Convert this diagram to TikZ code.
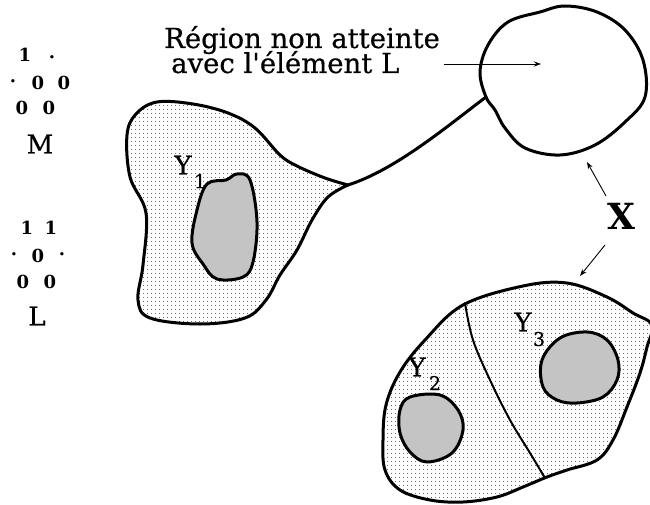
\documentclass[tikz,border=0pt]{standalone}
\usepackage{fontspec}
\setmainfont{DejaVu Serif}
\newfontfamily\heavyserif[FakeBold=0.6]{DejaVu Serif}
\usetikzlibrary{arrows.meta,patterns.meta}
\begin{document}
\begin{tikzpicture}[x=1pt,y=-1pt,
  region/.style={line width=3pt, line join=round, pattern={Dots[distance=4pt,radius=0.55pt]}, pattern color=black},
  core/.style={line width=3pt, line join=round, fill=white, postaction={pattern={Dots[distance=2pt,radius=0.7pt]}, pattern color=black}},
  thick line/.style={line width=3pt, line cap=round},
  thinarr/.style={line width=0.9pt, -{Stealth[length=7pt,width=5pt]}},
  lbl/.style={inner sep=0pt, font=\fontsize{27.5}{31}\heavyserif},
  ent/.style={inner sep=0pt, font=\fontsize{18}{20}\selectfont\bfseries},
  big/.style={inner sep=0pt, font=\fontsize{26}{30}\heavyserif},
  sub/.style={inner sep=0pt, font=\fontsize{19}{22}\heavyserif}]
\useasboundingbox (0,0) rectangle (650,505);

% left blob (Y1)
\draw[region] plot[smooth, tension=0.6] coordinates {(348,185) (325,178) (297,166) (280,155) (255,128) (228,113) (193,104) (157,102) (136,114) (127,135) (130,177) (146,213) (143,265) (138,300) (150,318) (200,324) (245,318) (266,300) (280,275) (297,250) (312,220) (328,197) (348,185)} -- cycle;
\draw[core] plot[smooth cycle, tension=0.6] coordinates {(237,174) (250,180) (257,222) (253,262) (243,277) (217,279) (203,264) (192,243) (197,210) (207,184) (226,180)};

% connector to circle
\coordinate (tip) at (348,185);
\coordinate (junc) at (486,97);
\draw[thick line] (tip) .. controls (395,170) and (445,128) .. (junc);

% unreached region
\draw[line width=3pt, line join=round] plot[smooth cycle, tension=0.6] coordinates {(486,97) (480,72) (488,45) (508,22) (540,12) (565,6) (597,12) (625,30) (643,60) (645,97) (625,122) (595,145) (560,155) (525,148) (505,128) (495,110)};

% bottom blob
\draw[region] plot[smooth cycle, tension=0.6] coordinates {(383,440) (386,405) (400,372) (425,340) (463,305) (523,286) (567,283) (607,297) (633,313) (652,325) (647,347) (640,373) (627,407) (613,440) (597,460) (567,470) (547,477) (523,487) (497,497) (463,502) (430,500) (400,490) (385,470)};
\draw[line width=2pt, line cap=round] plot[smooth, tension=0.6] coordinates {(465,303) (473,340) (490,380) (510,420) (530,453) (545,478)};
\draw[core] plot[smooth cycle, tension=0.6] coordinates {(560,338) (587,332) (607,340) (618,360) (617,380) (603,397) (577,403) (557,400) (543,387) (542,360)};
\draw[core] plot[smooth cycle, tension=0.6] coordinates {(410,397) (440,395) (458,410) (463,430) (452,453) (427,462) (410,452) (400,433) (400,410)};

% labels Y
\node[big] (y1) at (183,165) {Y};
\node[sub] (y1s) at (200,181) {1};
\node[big] (y2) at (417,367) {Y};
\node[sub] (y2s) at (435,383) {2};
\node[big] (y3) at (523,322) {Y};
\node[sub] (y3s) at (539,339) {3};

% text and arrow
\node[lbl, anchor=base west] (t1) at (164,48) {Région non atteinte};
\node[lbl, anchor=base west] (t2) at (171,73) {avec l\textquotesingle élément L};
\coordinate (aS) at (444,64);
\coordinate (aE) at (541,64);
\draw[thinarr] (aS) -- (aE);

% X
\node[inner sep=0pt, font=\fontsize{36}{40}\selectfont\bfseries] (X) at (621,216) {X};
\coordinate (xu) at (587,162);
\coordinate (xd) at (580,276);
\coordinate (xus) at (606,196);
\coordinate (xds) at (605,245);
\draw[thinarr] (xus) -- (xu);
\draw[thinarr] (xds) -- (xd);

% matrices
\foreach \t/\x/\y [count=\i] in {1/25/55, ·/52/60, ·/13/84, 0/38/83, 0/64/83, 0/22/108, 0/49/108,
                      1/27/228, 1/51/228, ·/14/257, 0/38/256, ·/62/257, 0/23/282, 0/50/282}
  \node[ent] (m\i) at (\x,\y) {\t};
\node[big] (M) at (40,144) {M};
\node[big] (L) at (37,316) {L};
\end{tikzpicture}
\end{document}
